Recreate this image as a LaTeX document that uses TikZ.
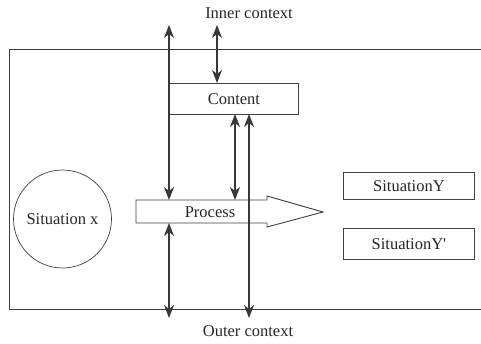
\documentclass[tikz,border=0pt]{standalone}
\usepackage{fontspec}
\setmainfont{Liberation Serif}
\newfontfamily\plainserif{Liberation Serif}
\usetikzlibrary{arrows.meta}
\begin{document}
\begin{tikzpicture}[x=1pt,y=-1pt,
  every node/.style={font=\fontsize{16.5}{19}\selectfont, text=black!85},
  boxed/.style={draw=black!75, fill=white, line width=0.9pt, inner sep=0pt, anchor=north west},
  conn/.style={draw=black!78, line width=1.6pt, {Stealth[length=13pt,width=10pt,inset=4pt]}-{Stealth[length=13pt,width=10pt,inset=4pt]}}]
\useasboundingbox (0,0) rectangle (481,343);
% frame open on the right
\draw[black!75, line width=0.9pt] (481,49.5) -- (9,49.5) -- (9,309) -- (481,309);
% labels
\node (inner) at (249,13) {Inner context};
\node (outer) at (248,331) {Outer context};
% circle
\node[draw=black!75, line width=0.7pt, circle, minimum size=98pt, inner sep=0pt] (sx) at (62.5,219) {Situation x};
% content box
\node[boxed, minimum width=129pt, minimum height=31pt] (content) at (169,83) {};
\node at (content.center) {Content};
% situation boxes
\node[boxed, minimum width=131pt, minimum height=27pt] (sy) at (343,172) {};
\node at (sy.center) {SituationY};
\node[boxed, minimum width=131pt, minimum height=31pt] (syp) at (343,228) {};
\node at (syp.center) {SituationY{\plainserif '}};
% process arrow
\draw[black!75, line width=0.9pt, fill=white] (136,200) -- (267,200) -- (267,196) -- (323,212) -- (267,227) -- (267,223) -- (136,223) -- cycle;
\node (proc) at (210,212) {Process};
% coordinates for connectors
\coordinate (t1) at (169,25);
\coordinate (p1) at (169,200);
\coordinate (t2) at (217,25);
\coordinate (c2) at (217,83);
\coordinate (c3) at (235,114);
\coordinate (p3) at (235,200);
\coordinate (c4) at (249,114);
\coordinate (b4) at (249,318);
\coordinate (p5) at (169,223);
\coordinate (b5) at (169,318);
\draw[conn] (t1) -- (p1);
\draw[conn] (t2) -- (c2);
\draw[conn] (c3) -- (p3);
\draw[conn] (c4) -- (b4);
\draw[conn] (p5) -- (b5);
\end{tikzpicture}
\end{document}
